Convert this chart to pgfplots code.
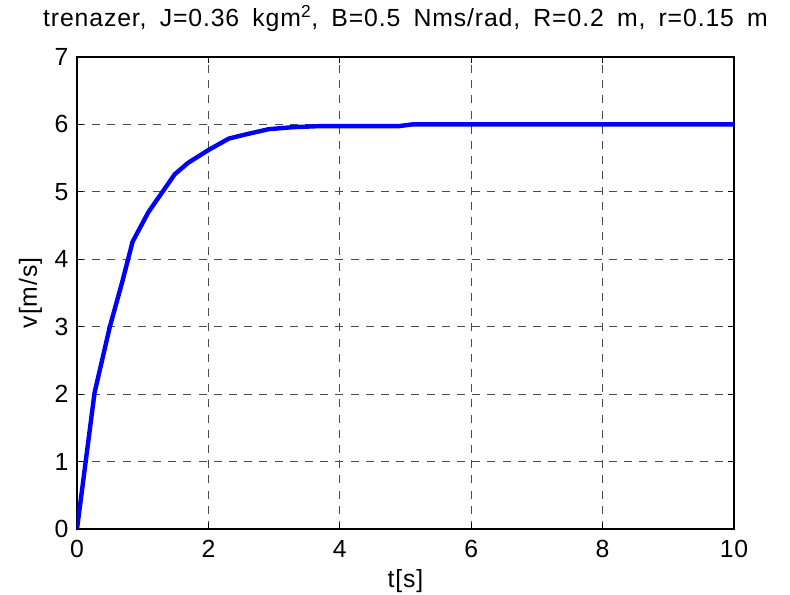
\documentclass[border=0pt]{standalone}
\usepackage{fontspec}
\setmainfont{Liberation Sans}[LetterSpace=3.5, WordSpace=1.7]
\usepackage{pgfplots}
\pgfplotsset{compat=1.18}
\begin{document}
\fontsize{18.6pt}{21pt}\selectfont
\begin{tikzpicture}
\path[use as bounding box] (-57.75pt,-48.75pt) rectangle (534.75pt,396.75pt);
\begin{axis}[
  at={(0,0)}, anchor=south west,
  scale only axis,
  width=492.75pt, height=354pt,
  xmin=0, xmax=10, ymin=0, ymax=7,
  xtick={0,2,4,6,8,10}, ytick={0,1,2,3,4,5,6,7},
  /pgf/number format/assume math mode=true,
  tick label style={font=\fontsize{18.6pt}{21pt}\selectfont},
  label style={font=\fontsize{18.6pt}{21pt}\selectfont},
  title style={font=\fontsize{18.6pt}{21pt}\selectfont, at={(0.5,1)}, anchor=base, yshift=17.25pt},
  xticklabel style={yshift=-2pt},
  tick align=inside, tick pos=both,
  major tick length=4.5pt,
  axis line style={black, line width=0.9pt},
  every tick/.style={black, line width=0.7pt},
  grid=major,
  major grid style={black!70, line width=0.7pt, dash pattern=on 6pt off 5.4pt},
  xlabel={t[s]}, ylabel={v[m/s]},
  xlabel style={at={(axis description cs:0.5,0)}, anchor=base, yshift=-43.5pt},
  ylabel style={at={(axis description cs:-0.0609,0.5)}, anchor=base},
  title={trenazer, J=0.36 kgm\textsuperscript{2}, B=0.5 Nms/rad, R=0.2 m, r=0.15 m},
]
\addplot[blue, line width=3.3pt, line join=round] coordinates {
(0,0) (0.267,2.02) (0.50,3.0) (0.69,3.67) (0.846,4.26) (1.087,4.70)
(1.487,5.26) (1.69,5.43) (2.0,5.62) (2.31,5.79) (2.56,5.85) (2.92,5.93)
(3.3,5.96) (3.7,5.975) (4.9,5.975) (5.1,6.0) (10,6.0)
};
\end{axis}
\end{tikzpicture}
\end{document}
